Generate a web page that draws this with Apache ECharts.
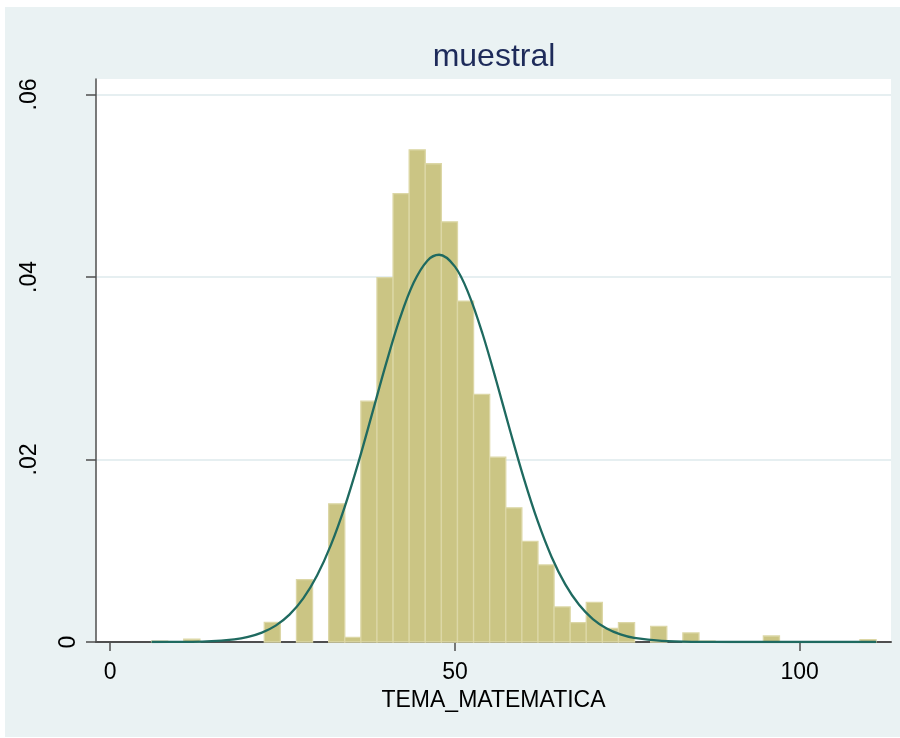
<!DOCTYPE html>
<html>
<head>
<meta charset="utf-8">
<title>muestral</title>
<script src="https://cdn.jsdelivr.net/npm/echarts@6/dist/echarts.min.js"></script>
<style>
  html, body { margin: 0; padding: 0; background: #ffffff; }
  #chart { width: 900px; height: 738px; }
</style>
</head>
<body>
<div id="chart"></div>
<script>
// Histogram of TEMA_MATEMATICA (density scale) with a fitted normal curve.

// Bins: 45 equal-width bins starting at the sample minimum
const binStart = 6.0;
const binWidth = 2.335;
const binDensity = [
  0.0001, 0, 0.0003, 0, 0, 0, 0, 0.00215, 0, 0.00683,
  0, 0.01514, 0.0005, 0.02639, 0.03993, 0.04914, 0.05394, 0.05241, 0.04605, 0.03736,
  0.02713, 0.02025, 0.0147, 0.01103, 0.00845, 0.00384, 0.00212, 0.00434, 0.0015, 0.00212,
  0, 0.00171, 0, 0.00099, 0.0001, 0, 0, 0, 0.00066, 0,
  0, 0, 0, 0, 0.00025
];

// Normal density overlay (x, density)
const curveX = [6, 10, 14, 18, 20, 22, 24, 26, 28, 30, 32, 34, 36, 38, 40, 42, 44, 46, 47.7,
  50, 52, 54, 56, 58, 60, 62, 64, 66, 68, 70, 72, 74, 76, 80, 85, 90, 100, 111.1];
const curveY = [0.000002, 0.000014, 0.00007, 0.000293, 0.000561, 0.001025, 0.001791, 0.002993,
  0.004773, 0.007282, 0.010615, 0.014787, 0.019689, 0.025057, 0.030477, 0.035431, 0.039359,
  0.041792, 0.04244, 0.041135, 0.038131, 0.033782, 0.028605, 0.023149, 0.017904, 0.013235,
  0.009351, 0.006314, 0.004074, 0.002513, 0.001481, 0.000834, 0.000449, 0.000114, 0.000016,
  0.000002, 0, 0];

// Axis ticks and labels
const xTickValues = [0, 50, 100];
const yTickValues = [0, 0.02, 0.04, 0.06];
const yTickLabels = ['0', '.02', '.04', '.06'];
const titleText = 'muestral';
const xAxisTitle = 'TEMA_MATEMATICA';

const FONT = "'Liberation Sans', Arial, Helvetica, sans-serif";
const AXIS_GRAY = '#4f4f4f';

const barData = [];
binDensity.forEach(function (d, i) {
  if (d > 0) {
    barData.push([binStart + i * binWidth, binStart + (i + 1) * binWidth, d]);
  }
});
const curveData = curveX.map(function (x, i) { return [x, curveY[i]]; });

function yLabel(v) {
  for (let i = 0; i < yTickValues.length; i++) {
    if (Math.abs(yTickValues[i] - v) < 1e-9) return yTickLabels[i];
  }
  return '';
}

function renderBin(params, api) {
  const topLeft = api.coord([api.value(0), api.value(2)]);
  const bottomRight = api.coord([api.value(1), 0]);
  return {
    type: 'rect',
    shape: {
      x: topLeft[0],
      y: topLeft[1],
      width: bottomRight[0] - topLeft[0],
      height: bottomRight[1] - topLeft[1]
    },
    style: {
      fill: '#cbc584',
      stroke: '#dcd7a6',
      lineWidth: 1.3
    }
  };
}

const chart = echarts.init(document.getElementById('chart'), null, { renderer: 'canvas' });

const yMax = 0.0617;

chart.setOption({
  animation: false,
  backgroundColor: '#ffffff',
  graphic: [{
    type: 'rect',
    z: -10,
    silent: true,
    shape: { x: 5, y: 7, width: 895, height: 730 },
    style: { fill: '#eaf2f3' }
  }],
  title: {
    text: titleText,
    left: 489,
    textAlign: 'center',
    top: 36,
    textStyle: {
      fontFamily: FONT,
      fontSize: 32,
      fontWeight: 'normal',
      color: '#1e2b5a'
    }
  },
  grid: {
    left: 96,
    right: 9,
    top: 79,
    bottom: 96,
    show: true,
    backgroundColor: '#ffffff',
    borderWidth: 0,
    containLabel: false
  },
  xAxis: {
    type: 'value',
    min: -2.06,
    max: 113.24,
    name: xAxisTitle,
    nameLocation: 'middle',
    nameGap: 45,
    nameTextStyle: { fontFamily: FONT, fontSize: 23, color: '#000000' },
    axisLine: { show: true, onZero: false, lineStyle: { color: AXIS_GRAY, width: 2 } },
    axisTick: { show: true, length: 9, customValues: xTickValues, lineStyle: { color: AXIS_GRAY, width: 1.5 } },
    axisLabel: {
      customValues: xTickValues,
      margin: 19,
      fontFamily: FONT,
      fontSize: 23,
      color: '#000000'
    },
    splitLine: { show: false }
  },
  yAxis: [{
    type: 'value',
    min: 0,
    max: yMax,
    axisLine: { show: true, onZero: false, lineStyle: { color: AXIS_GRAY, width: 1.5 } },
    axisTick: { show: true, length: 10, customValues: yTickValues, lineStyle: { color: AXIS_GRAY, width: 1.5 } },
    axisLabel: {
      customValues: yTickValues.slice(1),
      formatter: yLabel,
      rotate: 90,
      margin: 55,
      fontFamily: FONT,
      fontSize: 23,
      color: '#000000'
    },
    splitLine: { show: true, lineStyle: { color: '#e6eff1', width: 2 } }
  }, {
    // the zero label sits closer to the axis line
    type: 'value',
    position: 'left',
    min: 0,
    max: yMax,
    axisLine: { show: false, onZero: false },
    axisTick: { show: false },
    splitLine: { show: false },
    axisLabel: {
      customValues: [yTickValues[0]],
      formatter: yLabel,
      rotate: 90,
      margin: 16,
      fontFamily: FONT,
      fontSize: 23,
      color: '#000000'
    }
  }],
  series: [{
    type: 'custom',
    name: 'density',
    renderItem: renderBin,
    encode: { x: [0, 1], y: 2 },
    data: barData,
    z: 2
  }, {
    type: 'line',
    name: 'normal',
    data: curveData,
    smooth: 0.35,
    symbol: 'none',
    lineStyle: { color: '#1f6a60', width: 2.3 },
    z: 3
  }]
});
</script>
</body>
</html>
